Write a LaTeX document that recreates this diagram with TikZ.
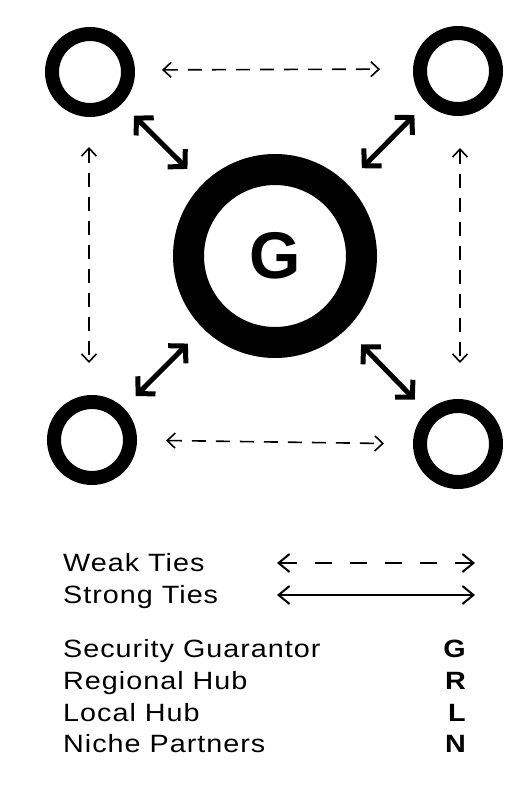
\documentclass[tikz,border=0pt]{standalone}
\usepackage{fontspec}
\setmainfont{Liberation Sans}
\newfontfamily\legfont{Liberation Sans}[FakeStretch=1.15,LetterSpace=4]
\usetikzlibrary{arrows.meta}
\begin{document}
\begin{tikzpicture}[x=1pt,y=-1pt,
  ring/.style={circle,draw=black,line width=14pt,minimum size=76pt,inner sep=0pt,outer sep=0pt},
  bigring/.style={circle,draw=black,line width=31pt,minimum size=173pt,inner sep=0pt,outer sep=0pt,
    font=\fontsize{66}{66}\selectfont\bfseries},
  strongtie/.style={line width=5pt,
    {Straight Barb[length=12pt,width=25pt]}-{Straight Barb[length=12pt,width=25pt]}},
  weaktie/.style={line width=1.6pt,dash pattern=on 14pt off 10pt,
    {Straight Barb[length=8pt,width=15pt]}-{Straight Barb[length=8pt,width=15pt]}},
  legweak/.style={line width=2pt,dash pattern=on 17pt off 18pt,
    {Straight Barb[length=11pt,width=18pt]}-{Straight Barb[length=11pt,width=18pt]}},
  legstrong/.style={line width=2pt,
    {Straight Barb[length=11pt,width=18pt]}-{Straight Barb[length=11pt,width=18pt]}},
  legtext/.style={anchor=base west,inner sep=0pt,font=\fontsize{25}{30}\legfont},
  legkey/.style={anchor=base east,inner sep=0pt,font=\fontsize{25}{30}\legfont\bfseries},
]
\useasboundingbox (0,0) rectangle (530,787);
\fill[white] (0,0) rectangle (530,787);

% nodes
\node[ring] (tl) at (90,72) {};
\node[ring] (tr) at (458,71) {};
\node[ring] (bl) at (92,440) {};
\node[ring] (br) at (458,444) {};
\node[bigring] (g) at (275,256) {G};

% strong ties
\draw[strongtie, shorten <=37pt, shorten >=24pt] (g) -- (tl);
\draw[strongtie, shorten <=37pt, shorten >=24pt] (g) -- (tr);
\draw[strongtie, shorten <=37pt, shorten >=24pt] (g) -- (bl);
\draw[strongtie, shorten <=37pt, shorten >=24pt] (g) -- (br);

% weak ties
\draw[weaktie, shorten <=34pt, shorten >=40pt] ([yshift=2pt]tl.east) -- ([yshift=2pt]tr.west);
\draw[weaktie, shorten <=36pt, shorten >=36pt] ([yshift=0pt]bl.east) -- ([yshift=0pt]br.west);
\draw[weaktie, shorten <=37pt, shorten >=39pt] ([xshift=-1pt]tl.south) -- ([xshift=-3pt]bl.north);
\draw[weaktie, shorten <=39pt, shorten >=43pt] ([xshift=2pt]tr.south) -- ([xshift=2pt]br.north);

% legend
\node[legtext] (lw) at (63,571) {Weak Ties};
\node[legtext] (ls) at (63,603) {Strong Ties};
\coordinate (wa) at (277,563);
\coordinate (wb) at (475,563);
\coordinate (sa) at (277,595);
\coordinate (sb) at (475,595);
\draw[legweak] (wa) -- (wb);
\draw[legstrong] (sa) -- (sb);

\node[legtext] (l1) at (63,657) {Security Guarantor};
\node[legtext] (l2) at (63,689) {Regional Hub};
\node[legtext] (l3) at (63,721) {Local Hub};
\node[legtext] (l4) at (63,752) {Niche Partners};
\node[legkey] (k1) at (466,657) {G};
\node[legkey] (k2) at (466,689) {R};
\node[legkey] (k3) at (466,721) {L};
\node[legkey] (k4) at (466,752) {N};
\end{tikzpicture}
\end{document}
